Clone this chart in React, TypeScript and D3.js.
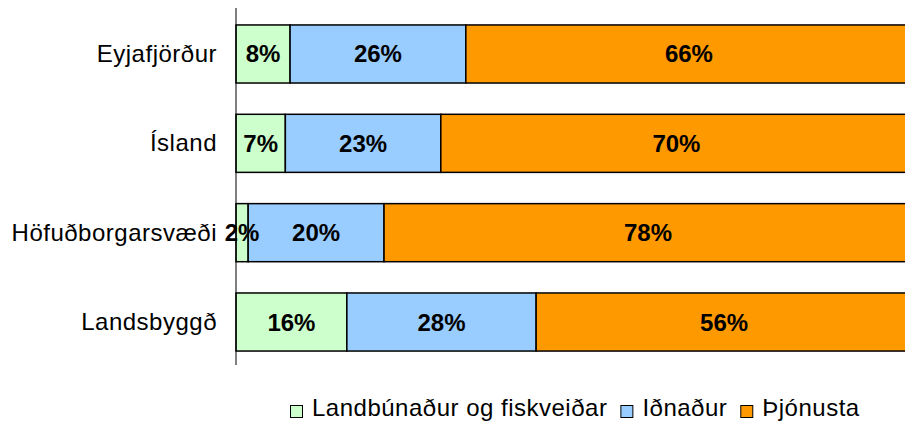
import React, { useRef, useEffect } from "react";
import * as d3 from "d3";

const regions = ["Eyjafjörður", "Ísland", "Höfuðborgarsvæði", "Landsbyggð"];
const sectors = ["Landbúnaður og fiskveiðar", "Iðnaður", "Þjónusta"];
const colors = ["#CCFFCC", "#99CCFF", "#FF9900"];

// shares in %, per region: [landbúnaður, iðnaður, þjónusta]
const agriculture = [8.0, 7.3, 1.8, 16.4];
const industry = [26.0, 23.0, 20.1, 28.0];
const services = [66.0, 69.7, 78.1, 55.6];

const width = 905;
const height = 421;
const axisTop = 8;
const axisBottom = 365;
const left = 236;
const font = "Liberation Sans, Arial, sans-serif";

const App = () => {
  const ref = useRef<SVGSVGElement>(null);

  useEffect(() => {
    const svg = d3.select(ref.current);
    svg.selectAll("*").remove();

    const rows = regions.map((r, i) => ({
      region: r,
      values: [agriculture[i], industry[i], services[i]],
    }));

    const x = d3.scaleLinear().domain([0, 100]).range([left, left + 676]);

    const y = d3
      .scaleBand()
      .domain(regions)
      .range([axisTop + 1.5, axisBottom + 1.5])
      .paddingInner(0.35)
      .paddingOuter(0.173);

    const fmt = (v) => d3.format(".0f")(v) + "%";

    const g = svg.append("g");

    rows.forEach((row) => {
      let acc = 0;
      row.values.forEach((v, k) => {
        const x0 = acc;
        acc += v;
        g.append("rect")
          .attr("x", x(x0))
          .attr("y", y(row.region))
          .attr("width", x(acc) - x(x0))
          .attr("height", y.bandwidth())
          .attr("fill", colors[k])
          .attr("stroke", "#000")
          .attr("stroke-width", 1.5);
      });
    });

    // axis line
    svg
      .append("line")
      .attr("x1", left)
      .attr("x2", left)
      .attr("y1", axisTop)
      .attr("y2", axisBottom)
      .attr("stroke", "#000")
      .attr("stroke-width", 1);

    // value labels
    rows.forEach((row) => {
      let acc = 0;
      row.values.forEach((v) => {
        const x0 = acc;
        acc += v;
        svg
          .append("text")
          .attr("x", (x(x0) + x(acc)) / 2)
          .attr("y", y(row.region) + y.bandwidth() / 2 + 8.5)
          .attr("text-anchor", "middle")
          .style("font-family", font)
          .style("font-size", "24px")
          .style("font-weight", "bold")
          .text(fmt(v));
      });
    });

    // category labels
    svg
      .append("g")
      .selectAll("text")
      .data(regions)
      .join("text")
      .attr("x", left - 19)
      .attr("y", (d) => y(d) + y.bandwidth() / 2 + 8)
      .attr("text-anchor", "end")
      .style("font-family", font)
      .style("font-size", "24px")
      .style("letter-spacing", "0.5px")
      .text((d) => d);

    // legend
    const legend = svg.append("g");
    let lx = 290;
    const ly = 411;
    sectors.forEach((s, k) => {
      legend
        .append("rect")
        .attr("x", lx + 0.5)
        .attr("y", ly - 5.5)
        .attr("width", 12)
        .attr("height", 12)
        .attr("fill", colors[k])
        .attr("stroke", "#000")
        .attr("stroke-width", 1);
      const t = legend
        .append("text")
        .attr("x", lx + 22)
        .attr("y", ly + 5)
        .style("font-family", font)
        .style("font-size", "24px")
        .style("letter-spacing", "0.5px")
        .text(s);
      const w = (t.node() as SVGTextElement).getComputedTextLength();
      lx += 22 + w + 13;
    });
  }, []);

  return (
    <svg
      ref={ref}
      width={width}
      height={height}
      style={{ position: "absolute", left: 0, top: 0, background: "#fff" }}
    />
  );
};

export default App;
